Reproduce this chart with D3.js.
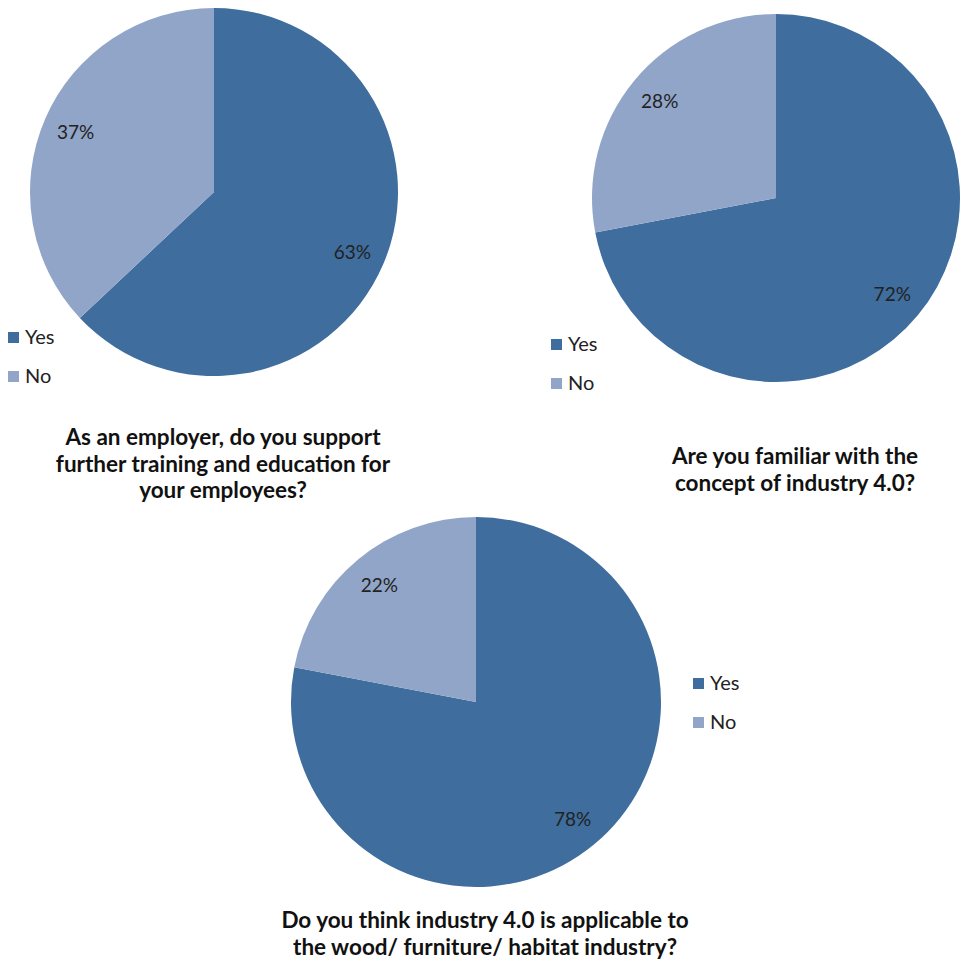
<!DOCTYPE html>
<html><head><meta charset="utf-8">
<script src="https://cdn.jsdelivr.net/npm/d3@7"></script>
<style>body{margin:0;background:#fff}svg{display:block}</style>
</head><body>
<script>
const categories = ["Yes", "No"];
const colors = ["#3e6d9e", "#91a5c8"];
const pie1Values = [63, 37];
const pie2Values = [72, 28];
const pie3Values = [78, 22];
const titles1 = ["As an employer, do you support", "further training and education for", "your employees?"];
const titles2 = ["Are you familiar with the", "concept of industry 4.0?"];
const titles3 = ["Do you think industry 4.0 is applicable to", "the wood/ furniture/ habitat industry?"];

const svg = d3.select("body").append("svg").attr("width", 960).attr("height", 964);
const font = "Lato, 'Open Sans', sans-serif";
const color = d3.scaleOrdinal().domain(categories).range(colors);

const charts = [
  {values: pie1Values, cx: 214, cy: 192, r: 184, legend: [8, 337], title: titles1, tx: 223, ty: 445},
  {values: pie2Values, cx: 776, cy: 198, r: 184, legend: [551, 344], title: titles2, tx: 795, ty: 464},
  {values: pie3Values, cx: 476, cy: 702, r: 185, legend: [693, 683], title: titles3, tx: 485, ty: 928}
];

charts.forEach(c => {
  const data = categories.map((k, i) => ({key: k, value: c.values[i]}));
  const arcs = d3.pie().sort(null).value(d => d.value)(data);
  const arc = d3.arc().innerRadius(0).outerRadius(c.r);
  const labelArc = d3.arc().innerRadius(c.r * 0.82).outerRadius(c.r * 0.82);
  const g = svg.append("g").attr("transform", `translate(${c.cx},${c.cy})`);
  g.selectAll("path").data(arcs).join("path").attr("d", arc).attr("fill", d => color(d.data.key));
  g.selectAll("text").data(arcs).join("text")
    .attr("transform", d => `translate(${labelArc.centroid(d)})`)
    .attr("text-anchor", "middle").attr("dy", "0.35em")
    .attr("font-family", font).attr("font-size", 19).attr("fill", "#222")
    .text(d => d.data.value + "%");

  const lg = svg.append("g").attr("transform", `translate(${c.legend[0]},${c.legend[1]})`);
  categories.forEach((k, i) => {
    lg.append("rect").attr("x", 0).attr("y", i * 39 - 5).attr("width", 11).attr("height", 11).attr("fill", color(k));
    lg.append("text").attr("x", 17).attr("y", i * 39).attr("dy", "0.35em")
      .attr("font-family", font).attr("font-size", 20).attr("fill", "#222").text(k);
  });

  const t = svg.append("text").attr("text-anchor", "middle")
    .attr("font-family", font).attr("font-size", 22.5).attr("font-weight", "bold").attr("fill", "#111");
  c.title.forEach((line, i) => {
    t.append("tspan").attr("x", c.tx).attr("y", c.ty + i * 26.5).text(line);
  });
});
</script>
</body></html>
